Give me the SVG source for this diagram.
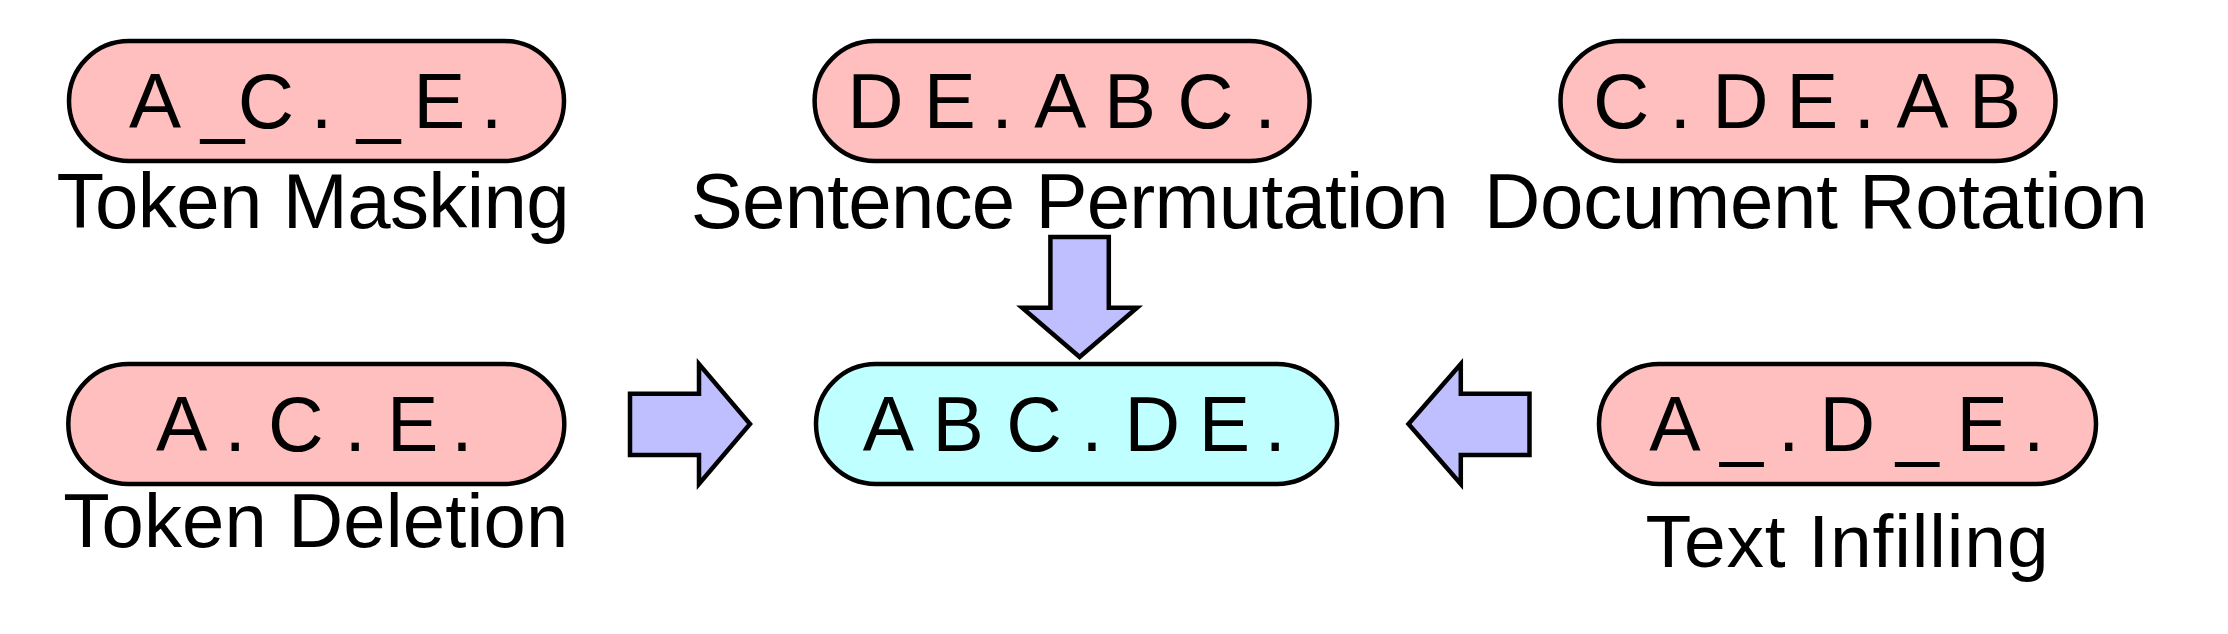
<svg xmlns="http://www.w3.org/2000/svg" width="2228" height="634" viewBox="0 0 2228 634">
  <style>
    .pill { stroke: #000; stroke-width: 4.5; }
    .noise { fill: #FFBFBF; }
    .orig { fill: #BFFFFF; }
    .arrow { fill: #BFBFFF; stroke: #000; stroke-width: 4.5; stroke-linejoin: miter; }
    .seq { font-family: "Liberation Sans", Arial, sans-serif; font-size: 78px; fill: #000; }
    .seq2 { font-family: "Liberation Sans", Arial, sans-serif; font-size: 77px; fill: #000; }
    .lab { font-family: "Liberation Sans", Arial, sans-serif; font-size: 78px; fill: #000; }
  </style>
  <rect width="2228" height="634" fill="#FFFFFF"/>

  <g id="token-masking">
    <rect class="pill noise" x="69" y="41" width="495" height="120" rx="60" ry="60"/>
    <text class="seq" y="127.7" x="129 200.9 237.7 310.8 356.9 413.3 480.8">A_C._E.</text>
    <text class="lab" x="56.6" y="228.3" textLength="513">Token Masking</text>
  </g>

  <g id="sentence-permutation">
    <rect class="pill noise" x="814.6" y="41" width="495" height="120" rx="60" ry="60"/>
    <text class="seq" y="127.7" x="847.2 923.7 991.2 1034.2 1103.9 1177.2 1254.3">DE.ABC.</text>
    <text class="lab" x="690.7" y="228.3" textLength="758">Sentence Permutation</text>
  </g>

  <g id="document-rotation">
    <rect class="pill noise" x="1560.5" y="41" width="495" height="120" rx="60" ry="60"/>
    <text class="seq" y="127.7" x="1593.1 1669.4 1712.3 1786.3 1853.6 1896.5 1968.9">C.DE.AB</text>
    <text class="lab" x="1484" y="228.3" textLength="664">Document Rotation</text>
  </g>

  <g id="token-deletion">
    <rect class="pill noise" x="68.3" y="364" width="496" height="120" rx="60" ry="60"/>
    <text class="seq2" y="450.7" x="156 224.6 267.9 344.6 387.1 451.2">A.C.E.</text>
    <text class="lab" style="font-size:76px" x="63.3" y="547.3" textLength="505">Token Deletion</text>
  </g>

  <g id="original">
    <rect class="pill orig" x="816" y="364" width="521" height="120" rx="60" ry="60"/>
    <text class="seq2" y="450.7" x="862.7 932.5 1006.2 1081.2 1124.5 1198.8 1264.6">ABC.DE.</text>
  </g>

  <g id="text-infilling">
    <rect class="pill noise" x="1599" y="364" width="497" height="120" rx="60" ry="60"/>
    <text class="seq2" y="450.7" x="1649.3 1720.2 1777.9 1819.5 1895.9 1956.5 2022.9">A_.D_E.</text>
    <text class="lab" style="font-size:75px" x="1645.6" y="566.7" textLength="403">Text Infilling</text>
  </g>

  <g id="connectors">
    <polygon class="arrow" points="1050.4,237 1108.8,237 1108.8,307.7 1137,307.7 1079.6,357 1022.2,307.7 1050.4,307.7"/>
    <polygon class="arrow" points="630,393.8 699,393.8 699,364 750,424 699,484 699,455 630,455"/>
    <polygon class="arrow" points="1529.5,393.8 1460.8,393.8 1460.8,364 1408.5,424 1460.8,484 1460.8,455 1529.5,455"/>
  </g>
</svg>
